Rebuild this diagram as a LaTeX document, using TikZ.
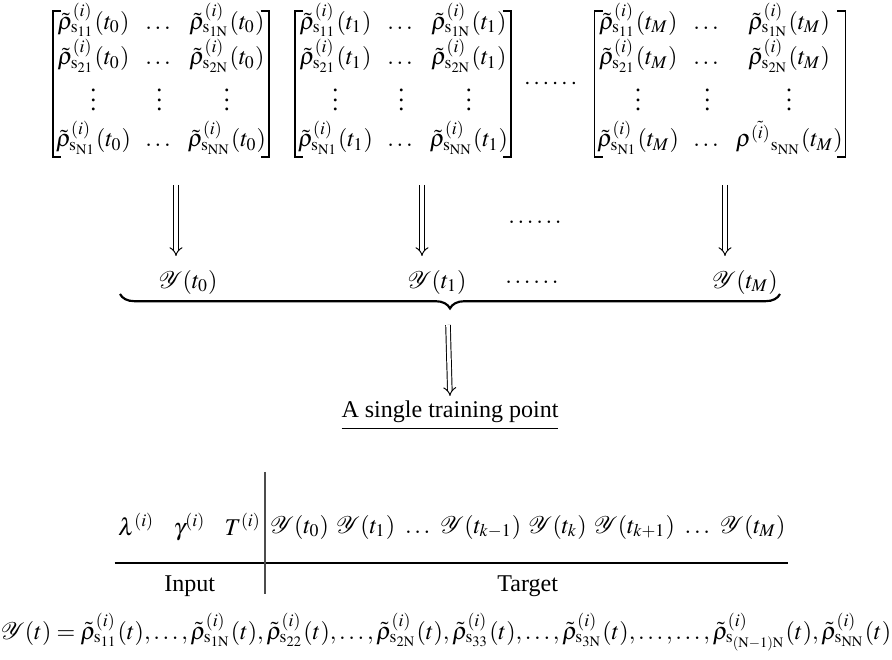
\documentclass[tikz,border=0pt]{standalone}
\usepackage{amsmath}
\usepackage{mathptmx}
\usepackage{mathrsfs}
\usepackage{fontspec}
\setmainfont{Liberation Serif}
\usetikzlibrary{arrows.meta,decorations.pathreplacing}

% density-matrix element: \rhoel{indices}{time}
\newcommand{\rhoel}[2]{\tilde{\rho}^{(i)}_{\mathrm{s}_{\mathrm{#1}}}(#2)}
% square brackets drawn round a matrix node
\newcommand{\drawbrackets}[1]{%
  \draw[brk] ([shift={(2.2pt,-3.2pt)}]#1.north west) -- ([shift={(-1.2pt,-3.2pt)}]#1.north west)
     -- ([shift={(-1.2pt,-0.5pt)}]#1.south west) -- ([shift={(2.2pt,-0.5pt)}]#1.south west);
  \draw[brk] ([shift={(-2.2pt,-3.2pt)}]#1.north east) -- ([shift={(1.2pt,-3.2pt)}]#1.north east)
     -- ([shift={(1.2pt,-0.5pt)}]#1.south east) -- ([shift={(-2.2pt,-0.5pt)}]#1.south east);}

\begin{document}
\begin{tikzpicture}[x=0.416pt,y=-0.416pt,
  every node/.style={inner sep=0pt, outer sep=0pt},
  dblarrow/.style={double, double distance=1.5pt, line width=0.4pt, -{Implies}},
  brk/.style={line width=0.75pt},
  rule/.style={line width=0.5pt}
]
\useasboundingbox (0,0) rectangle (892,660);
\setlength{\arraycolsep}{3pt}

% ---- matrices of density-matrix elements ----
\node[anchor=north] (m0) at (161,3) {$\begin{matrix}
\rhoel{11}{t_0} & \dots & \rhoel{1N}{t_0}\\[0.5pt]
\rhoel{21}{t_0} & \dots & \rhoel{2N}{t_0}\\[0.5pt]
\vdots & \vdots & \vdots\\[0.5pt]
\rhoel{N1}{t_0} & \dots & \rhoel{NN}{t_0}
\end{matrix}$};
\node[anchor=north] (m1) at (403,3) {$\begin{matrix}
\rhoel{11}{t_1} & \dots & \rhoel{1N}{t_1}\\[0.5pt]
\rhoel{21}{t_1} & \dots & \rhoel{2N}{t_1}\\[0.5pt]
\vdots & \vdots & \vdots\\[0.5pt]
\rhoel{N1}{t_1} & \dots & \rhoel{NN}{t_1}
\end{matrix}$};
\node (mdots) at (552,84) {$\cdots\cdots$};
\node[anchor=north] (mM) at (720,3) {$\begin{matrix}
\rhoel{11}{t_M} & \dots & \rhoel{1N}{t_M}\\[0.5pt]
\rhoel{21}{t_M} & \dots & \rhoel{2N}{t_M}\\[0.5pt]
\vdots & \vdots & \vdots\\[0.5pt]
\rhoel{N1}{t_M} & \dots & \rho^{\tilde{(i)}}{}_{\mathrm{s}_{\mathrm{NN}}}(t_M)
\end{matrix}$};
\drawbrackets{m0}
\drawbrackets{m1}
\drawbrackets{mM}

% ---- flattened vectors ----
\node (y0) at (188,282) {$\mathscr{Y}(t_0)$};
\node (y1) at (437,282) {$\mathscr{Y}(t_1)$};
\node (ydots) at (532,282) {$\ldots\ldots$};
\node (yM) at (745,282) {$\mathscr{Y}(t_M)$};
\node (adots) at (535,222) {$\ldots\ldots$};

\coordinate (a0s) at (176,185); \coordinate (a0e) at (176,256);
\coordinate (a1s) at (422,185); \coordinate (a1e) at (422,256);
\coordinate (aMs) at (725,185); \coordinate (aMe) at (725,256);
\draw[dblarrow] (a0s) -- (a0e);
\draw[dblarrow] (a1s) -- (a1e);
\draw[dblarrow] (aMs) -- (aMe);

% ---- brace collecting all time steps ----
\coordinate (bl) at (120,294);
\coordinate (br) at (780,294);
\draw[line width=0.9pt, decorate, decoration={brace, mirror, amplitude=6pt}] (bl) -- (br);

\coordinate (ts) at (448,325);
\node (tp) at (450,412) {A single training point};
\draw[rule] ([yshift=-2.2pt]tp.south west) -- ([yshift=-2.2pt]tp.south east);
\draw[dblarrow] (ts) -- (tp.north |- 0,396);

% ---- input / target table ----
\node[anchor=east] (inp) at (261,527) {$\lambda^{(i)}\hspace{8pt}\gamma^{(i)}\hspace{8pt}T^{(i)}$};
\node[anchor=west] (tgt) at (270,527) {$\mathscr{Y}(t_0)\hspace{3pt}\mathscr{Y}(t_1)\hspace{3pt}\ldots\hspace{3pt}\mathscr{Y}(t_{k-1})\hspace{3pt}\mathscr{Y}(t_k)\hspace{3pt}\mathscr{Y}(t_{k+1})\hspace{3pt}\ldots\hspace{3pt}\mathscr{Y}(t_M)$};
\coordinate (hl) at (0,563);
\draw[rule] ([xshift=-1.5pt]inp.west |- hl) -- ([xshift=1pt]tgt.east |- hl);
\coordinate (vt) at (265,472);
\coordinate (vb) at (265,594);
\draw[line width=0.6pt, black!70] (vt) -- (vb);
\node (inlab) at (inp.center |- 0,586) {Input};
\node (tglab) at (tgt.center |- 0,586) {Target};

% ---- definition of the flattened vector ----
\node (def) at (446,632) {$\mathscr{Y}(t) = \rhoel{11}{t},\ldots,\rhoel{1N}{t},\rhoel{22}{t},\ldots,\rhoel{2N}{t},\rhoel{33}{t},\ldots,\rhoel{3N}{t},\ldots,\ldots,\rhoel{(N-1)N}{t},\rhoel{NN}{t}$};
\end{tikzpicture}
\end{document}
